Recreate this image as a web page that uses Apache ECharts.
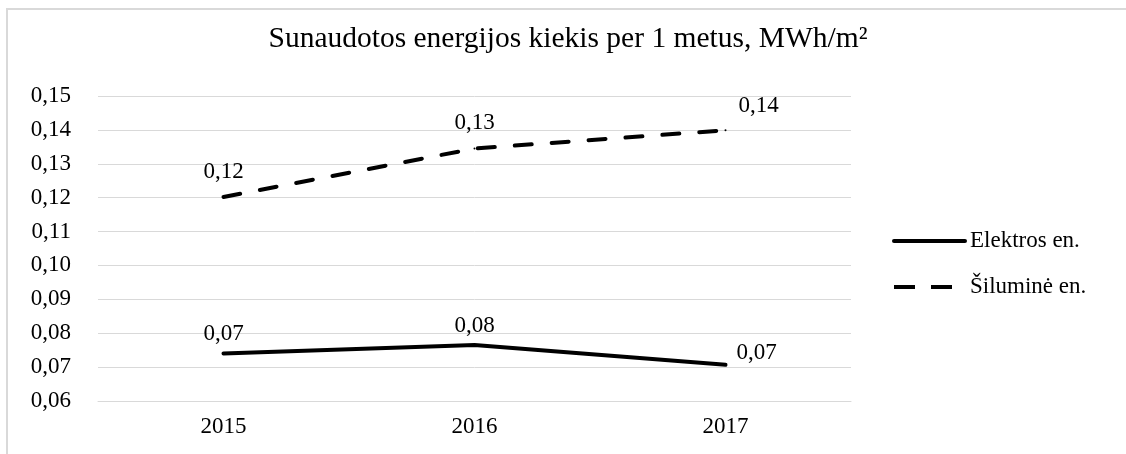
<!DOCTYPE html>
<html>
<head>
<meta charset="utf-8">
<script src="https://cdn.jsdelivr.net/npm/echarts@6/dist/echarts.min.js"></script>
<style>
html, body { margin: 0; padding: 0; background: #fff; }
#chart { width: 1126px; height: 454px; }
</style>
</head>
<body>
<div id="chart"></div>
<script>
// data
const years = ['2015', '2016', '2017']
const elektros = [0.074, 0.0765, 0.0707]
const siluma = [0.1202, 0.1345, 0.1399]
const seriesNames = ['Elektros en.', 'Šiluminė en.']
const yMin = 0.06
const yMax = 0.15
const yStep = 0.01

const font = "'Liberation Serif', 'Times New Roman', serif"
const grey = '#d9d9d9'
const dash = [17, 20]
const fmt = v => v.toFixed(2).replace('.', ',')

// label placement per point (last points sit to the right)
const elektrosData = elektros.map((v, i) => {
    if (i === 2) return { value: v, label: { position: 'right', distance: 10, offset: [0, -12] } }
    return { value: v }
})
const silumaData = siluma.map((v, i) => {
    if (i === 2) return { value: v, label: { position: 'right', distance: 12, offset: [0, -24] } }
    return { value: v }
})

const chart = echarts.init(document.getElementById('chart'))
chart.setOption({
    animation: false,
    textStyle: { fontFamily: font },
    title: {
        text: 'Sunaudotos energijos kiekis per 1 metus, MWh/m²',
        left: 563,
        textAlign: 'center',
        top: 19,
        textStyle: { fontFamily: font, fontSize: 29.5, fontWeight: 'normal', color: '#000' }
    },
    graphic: [{
        type: 'polyline',
        shape: { points: [[7, 470], [7, 9], [1140, 9]] },
        style: { stroke: grey, lineWidth: 2, fill: null },
        silent: true
    }],
    legend: {
        orient: 'vertical',
        left: 892,
        top: 229,
        padding: 0,
        itemWidth: 71,
        itemHeight: 14,
        itemGap: 22,
        itemStyle: { opacity: 0 },
        lineStyle: { width: 4 },
        textStyle: { fontFamily: font, fontSize: 23, color: '#000', lineHeight: 24 },
        data: [
            { name: seriesNames[0], lineStyle: { width: 4, type: 'solid', cap: 'round' } },
            { name: seriesNames[1], lineStyle: { width: 4, type: [21, 16], cap: 'butt' } }
        ]
    },
    grid: { left: 98, right: 275, top: 96, bottom: 53 },
    xAxis: {
        type: 'category',
        data: years,
        axisTick: { show: false },
        axisLine: { lineStyle: { color: grey, width: 1 } },
        axisLabel: { fontFamily: font, fontSize: 23, color: '#000', margin: 14 }
    },
    yAxis: {
        type: 'value',
        min: yMin,
        max: yMax,
        interval: yStep,
        axisLine: { show: false },
        axisTick: { show: false },
        axisLabel: { fontFamily: font, fontSize: 23, color: '#000', margin: 27, formatter: v => fmt(v) },
        splitLine: { lineStyle: { color: grey, width: 1 } }
    },
    series: [{
        name: seriesNames[0],
        type: 'line',
        data: elektrosData,
        symbol: 'circle',
        symbolSize: 2,
        lineStyle: { color: '#000', width: 4, cap: 'round' },
        itemStyle: { color: '#000' },
        label: {
            show: true, position: 'top', distance: 7,
            fontFamily: font, fontSize: 23, color: '#000',
            formatter: p => fmt(p.value)
        },
        emphasis: { disabled: true }
    }, {
        name: seriesNames[1],
        type: 'line',
        data: silumaData,
        symbol: 'circle',
        symbolSize: 2,
        lineStyle: { color: '#000', width: 4, type: dash, cap: 'round' },
        itemStyle: { color: '#000' },
        label: {
            show: true, position: 'top', distance: 13,
            fontFamily: font, fontSize: 23, color: '#000',
            formatter: p => fmt(p.value)
        },
        emphasis: { disabled: true }
    }]
})
</script>
</body>
</html>
